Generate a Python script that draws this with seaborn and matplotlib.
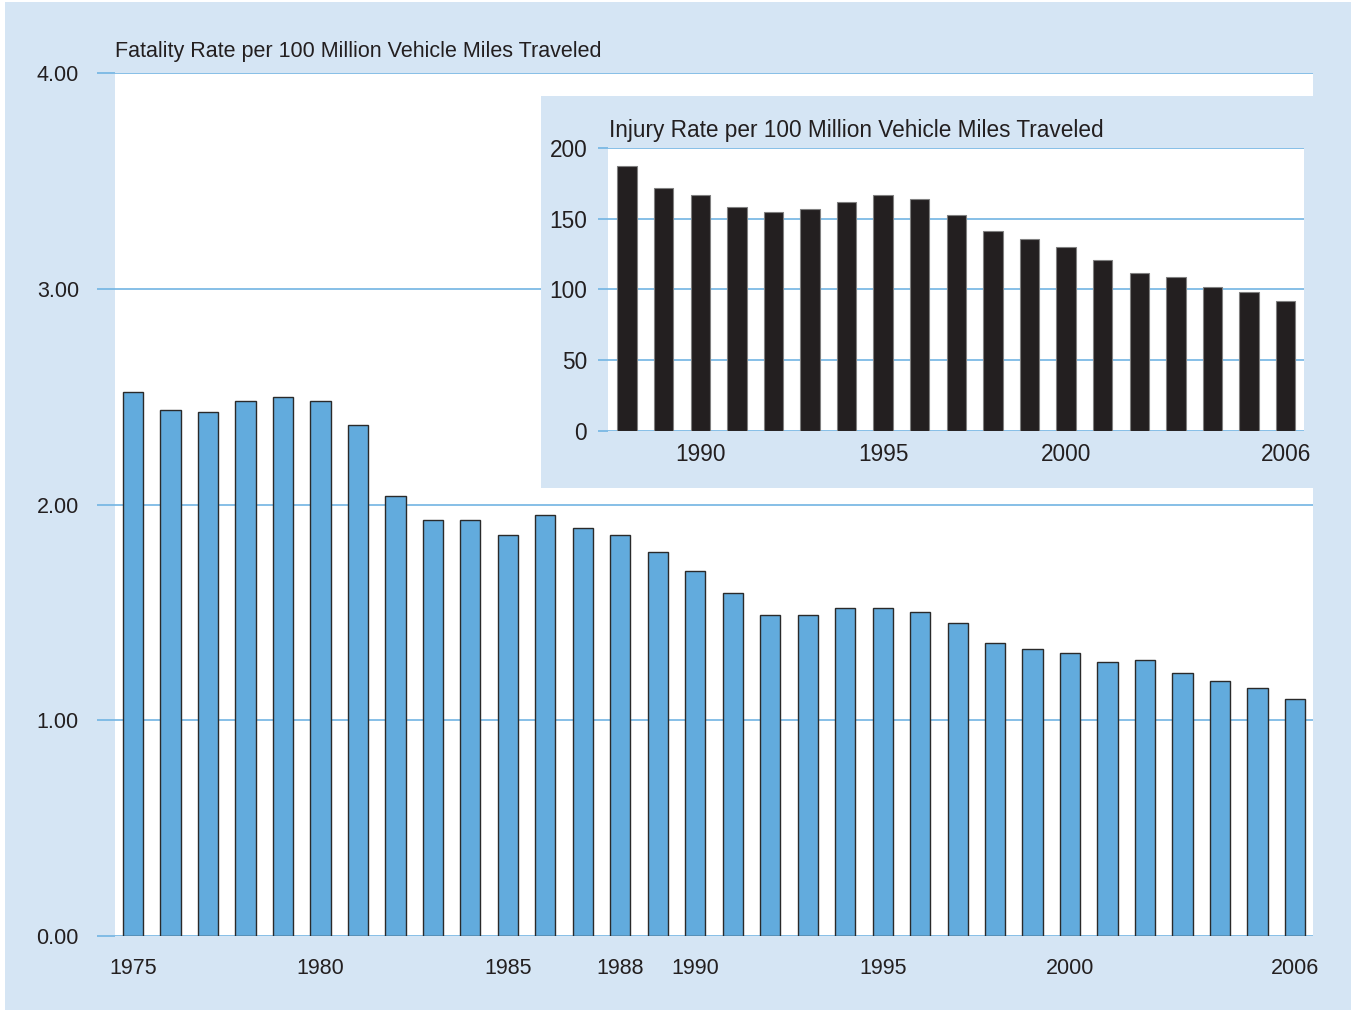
import matplotlib
matplotlib.use("Agg")
import matplotlib.pyplot as plt
import pandas as pd
import seaborn as sns
from matplotlib.patches import Rectangle

# fatality rate per 100 million VMT, 1975-2006
fatal_years = list(range(1975, 2007))
fatal_rate = [2.52, 2.44, 2.43, 2.48, 2.50, 2.48, 2.37, 2.04, 1.93, 1.93,
              1.86, 1.95, 1.89, 1.86, 1.78, 1.69, 1.59, 1.49, 1.49, 1.52,
              1.52, 1.50, 1.45, 1.36, 1.33, 1.31, 1.27, 1.28, 1.22, 1.18,
              1.15, 1.10]
fatal_ticks = [1975, 1980, 1985, 1988, 1990, 1995, 2000, 2006]

# injury rate per 100 million VMT, 1988-2006
injury_years = list(range(1988, 2007))
injury_rate = [187, 172, 167, 158, 155, 157, 162, 167, 164, 153,
               141, 136, 130, 121, 112, 109, 102, 98, 92]
injury_ticks = [1990, 1995, 2000, 2006]

W, H = 1351, 1010
BG = "#d5e5f4"
GRID = "#72b4e3"
TXT = "#231f20"

sns.set_theme(style="white")
plt.rcParams["font.family"] = ["Liberation Sans", "DejaVu Sans"]


def fig_rect(x0, y0, x1, y1):
    # pixel box (top-left origin) -> figure fraction
    return [x0 / W, 1 - y1 / H, (x1 - x0) / W, (y1 - y0) / H]


fig = plt.figure(figsize=(W / 100, H / 100), dpi=100, facecolor="white")
fig.patches.append(Rectangle((5 / W, 0), 1, 1 - 2 / H, transform=fig.transFigure,
                             facecolor=BG, edgecolor="none", zorder=-10))

# main chart
df_f = pd.DataFrame({"year": [str(y) for y in fatal_years], "rate": fatal_rate})
ax = fig.add_axes(fig_rect(115, 73, 1313, 936))
sns.barplot(data=df_f, x="year", y="rate", ax=ax, color="#62abdd",
            saturation=1, width=0.54, edgecolor="#2a2a2a", linewidth=1.0)
ax.set_xlim(-0.48, len(fatal_years) - 1 + 0.48)
ax.set_ylim(0, 4)
ax.set_yticks([0, 1, 2, 3, 4])
ax.set_yticklabels(["0.00", "1.00", "2.00", "3.00", "4.00"])
ax.set_xticks([fatal_years.index(y) for y in fatal_ticks])
ax.set_xticklabels([str(y) for y in fatal_ticks])
ax.yaxis.grid(True, color=GRID, linewidth=1.2)
ax.set_axisbelow(True)
for s in ax.spines.values():
    s.set_visible(False)
# left ticks act as the gridline stubs running out to the labels
ax.tick_params(axis="y", left=True, length=13, width=1.2, color=GRID, pad=13,
               labelsize=15.5, labelcolor=TXT)
ax.tick_params(axis="x", bottom=False, length=0, pad=15.5, labelsize=15.5,
               labelcolor=TXT)
ax.set_xlabel("")
ax.set_ylabel("")
fig.text(115 / W, 1 - 51 / H, "Fatality Rate per 100 Million Vehicle Miles Traveled",
         fontsize=15.5, color=TXT, ha="left", va="center")

# inset panel
fig.patches.append(Rectangle((541 / W, 1 - 488 / H), (1313 - 541) / W, (488 - 96) / H,
                             transform=fig.transFigure, facecolor=BG,
                             edgecolor="none", zorder=5))
df_i = pd.DataFrame({"year": [str(y) for y in injury_years], "rate": injury_rate})
ax2 = fig.add_axes(fig_rect(608, 148, 1304, 431))
ax2.set_zorder(6)
sns.barplot(data=df_i, x="year", y="rate", ax=ax2, color="#231f20",
            saturation=1, width=0.53, edgecolor="#808080", linewidth=0.8)
ax2.set_xlim(-0.52, len(injury_years) - 1 + 0.5)
ax2.set_ylim(0, 200)
ax2.set_yticks([0, 50, 100, 150, 200])
ax2.set_xticks([injury_years.index(y) for y in injury_ticks])
ax2.set_xticklabels([str(y) for y in injury_ticks])
ax2.yaxis.grid(True, color=GRID, linewidth=1.2)
ax2.set_axisbelow(True)
for s in ax2.spines.values():
    s.set_visible(False)
ax2.tick_params(axis="y", left=True, length=7, width=1.2, color=GRID, pad=8,
                labelsize=16.3, labelcolor=TXT)
ax2.tick_params(axis="x", bottom=False, length=0, pad=9, labelsize=16.3,
                labelcolor=TXT)
ax2.set_xlabel("")
ax2.set_ylabel("")
fig.text(609 / W, 1 - 130 / H, "Injury Rate per 100 Million Vehicle Miles Traveled",
         fontsize=16.3, color=TXT, ha="left", va="center", zorder=7)

fig.savefig("out.png", dpi=100, facecolor=fig.get_facecolor())
